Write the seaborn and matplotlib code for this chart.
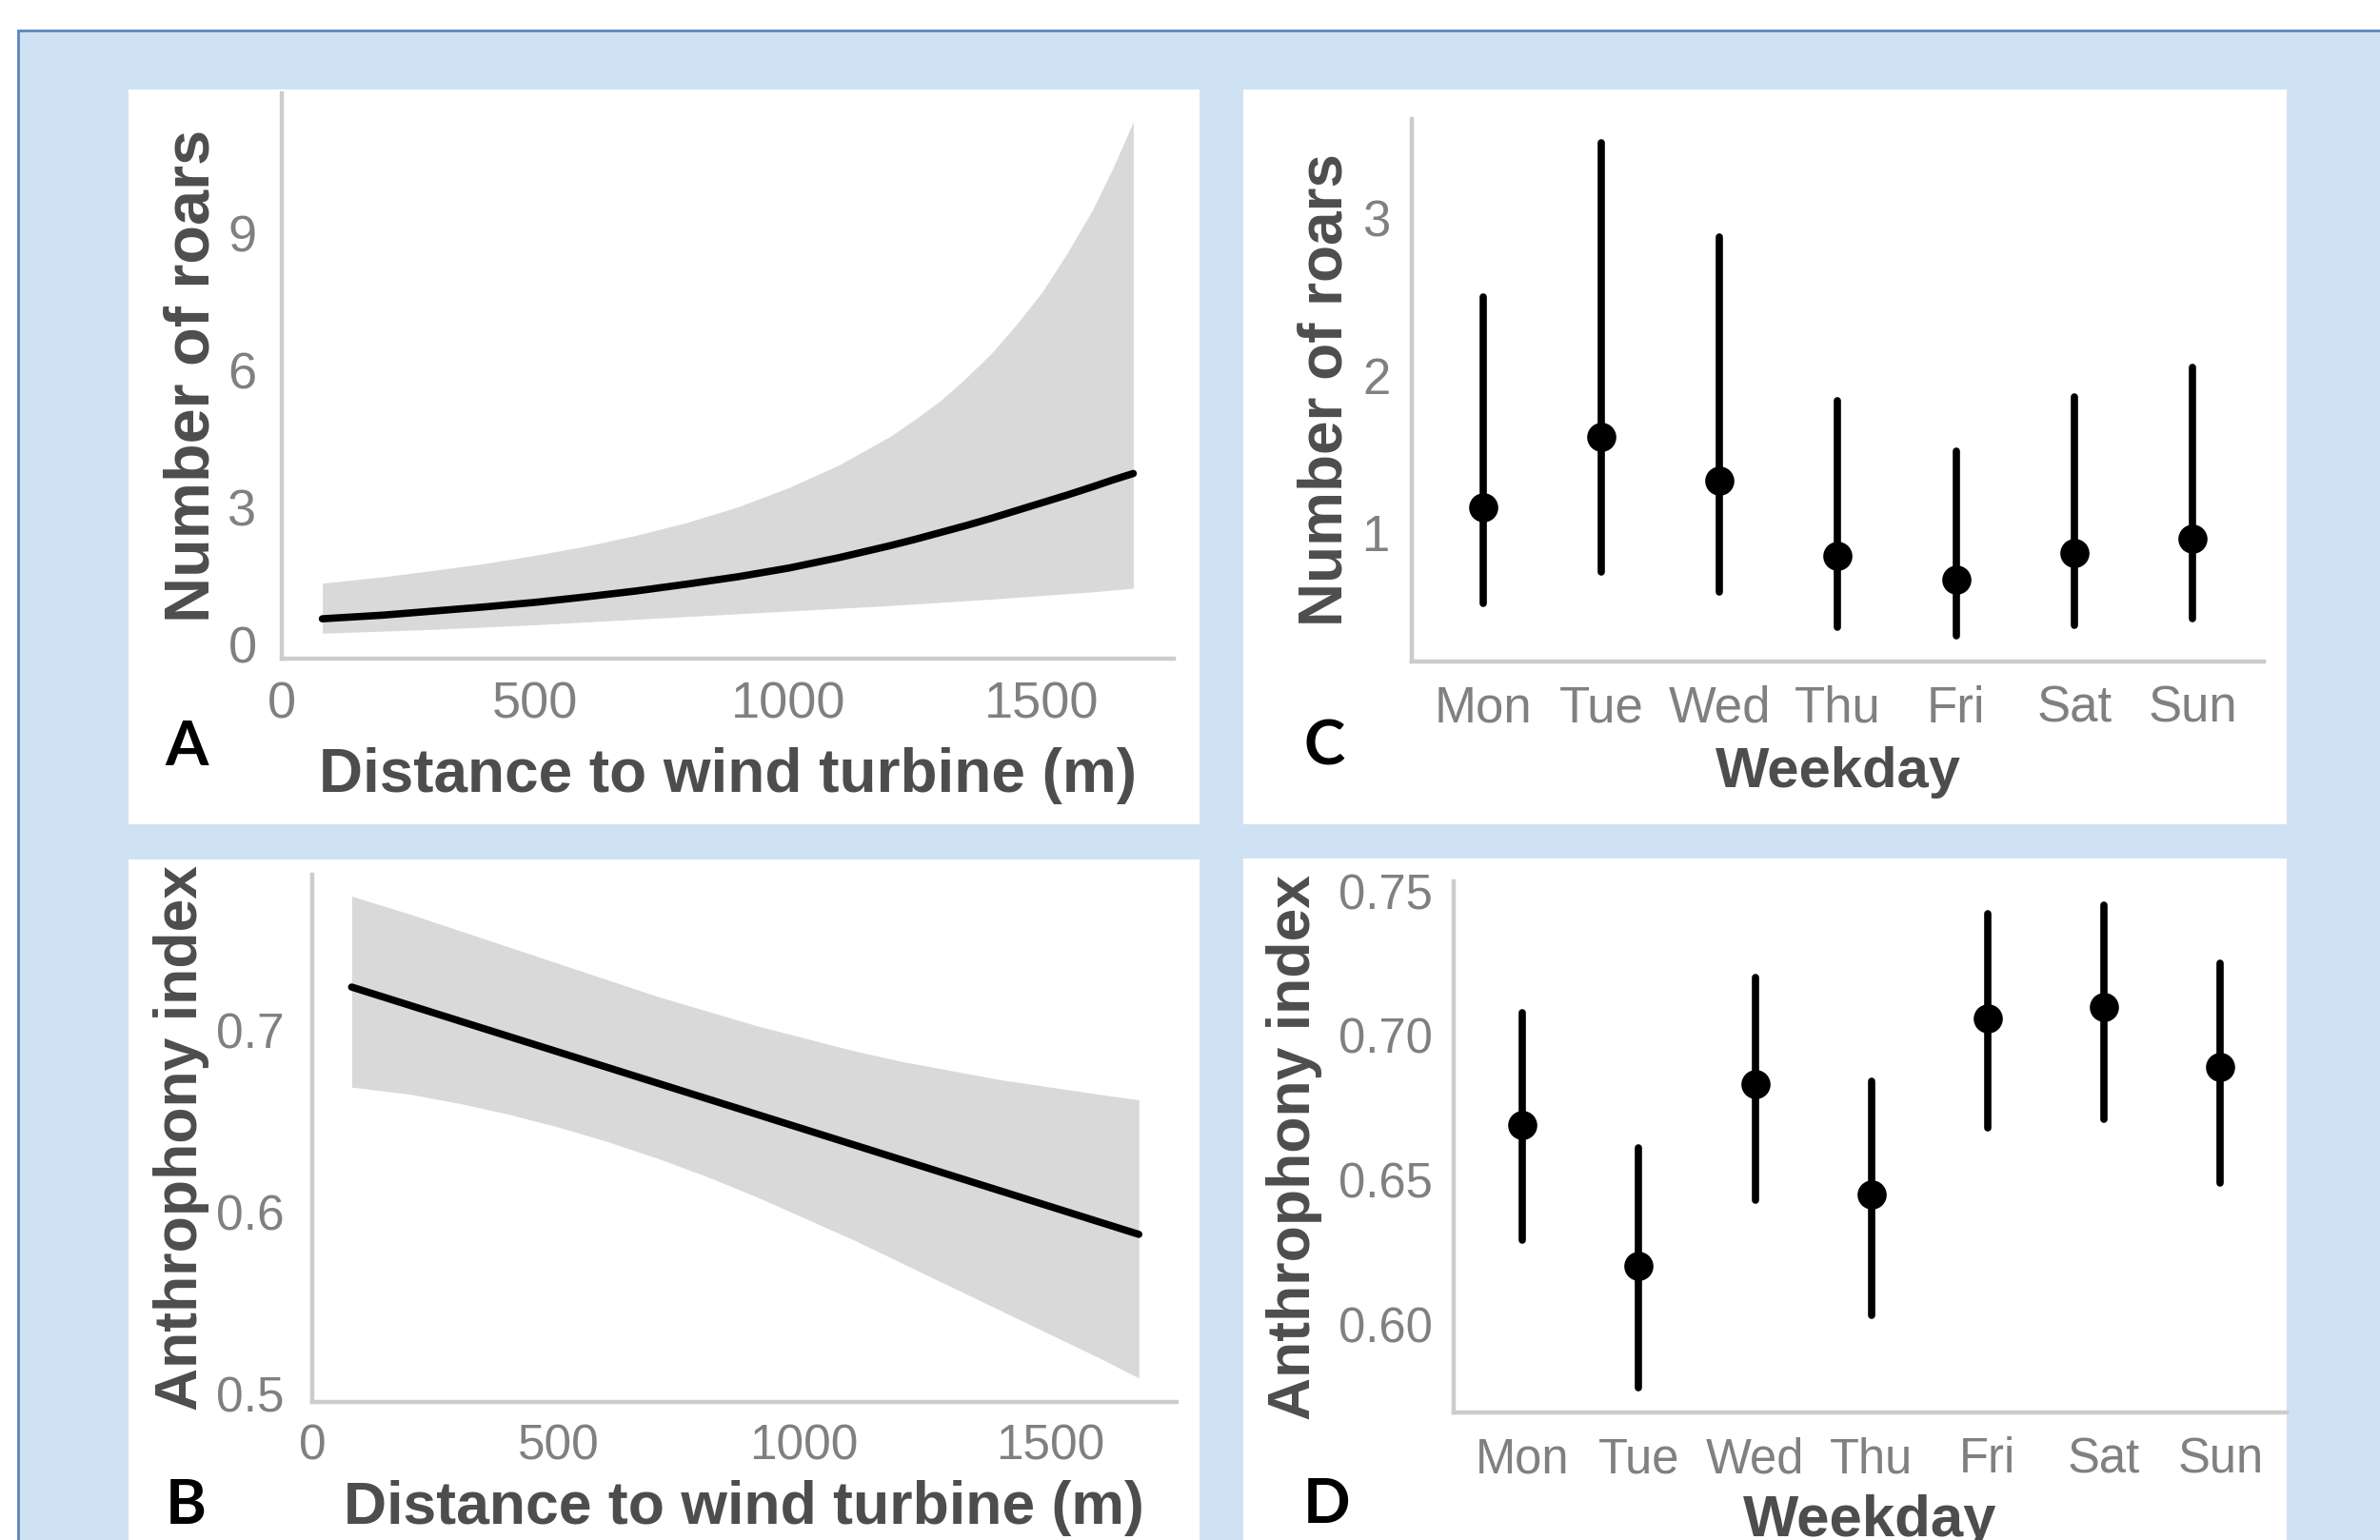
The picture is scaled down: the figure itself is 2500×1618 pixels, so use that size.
import matplotlib
matplotlib.use("Agg")
import matplotlib.pyplot as plt
from matplotlib.patches import Rectangle
import pandas as pd
import seaborn as sns

# panel A: number of roars along distance to turbine
roars_distance = [80, 200, 300, 400, 500, 600, 700, 800, 900, 1000, 1100, 1200, 1250, 1300,
                  1350, 1400, 1450, 1500, 1550, 1600, 1640, 1680]
roars_fit = [0.56, 0.64, 0.73, 0.82, 0.92, 1.04, 1.17, 1.32, 1.48, 1.67, 1.90, 2.16, 2.30, 2.45,
             2.60, 2.76, 2.93, 3.10, 3.27, 3.45, 3.60, 3.74]
roars_lo = [0.245, 0.29, 0.33, 0.38, 0.43, 0.49, 0.55, 0.61, 0.67, 0.73, 0.79, 0.85, 0.885, 0.92,
            0.955, 0.99, 1.03, 1.07, 1.11, 1.15, 1.19, 1.23]
roars_hi = [1.34, 1.48, 1.62, 1.77, 1.95, 2.15, 2.39, 2.67, 3.01, 3.43, 3.93, 4.55, 4.93, 5.34,
            5.83, 6.37, 7.01, 7.71, 8.57, 9.52, 10.43, 11.44]

# panel B: anthrophony index along distance to turbine
anthro_distance = [80, 200, 300, 400, 500, 600, 700, 800, 900, 1000, 1100, 1200, 1300,
                   1400, 1500, 1600, 1680]
anthro_lo = [0.669, 0.665, 0.660, 0.654, 0.647, 0.639, 0.630, 0.620, 0.609, 0.597, 0.585,
             0.572, 0.559, 0.546, 0.533, 0.520, 0.509]
anthro_hi = [0.774, 0.764, 0.755, 0.746, 0.737, 0.728, 0.719, 0.711, 0.703, 0.696, 0.689,
             0.683, 0.678, 0.673, 0.669, 0.665, 0.662]
anthro_fit_distance = [80, 1680]
anthro_fit = [0.724, 0.588]

# panel C / D: weekday estimates with intervals
weekdays = ["Mon", "Tue", "Wed", "Thu", "Fri", "Sat", "Sun"]
roars_day = [1.16, 1.61, 1.33, 0.85, 0.70, 0.87, 0.96]
roars_day_lo = [0.55, 0.75, 0.62, 0.40, 0.34, 0.41, 0.45]
roars_day_hi = [2.50, 3.48, 2.88, 1.84, 1.52, 1.86, 2.05]

anthro_day = [0.669, 0.620, 0.683, 0.645, 0.706, 0.710, 0.689]
anthro_day_lo = [0.629, 0.578, 0.643, 0.603, 0.668, 0.671, 0.649]
anthro_day_hi = [0.708, 0.661, 0.720, 0.684, 0.742, 0.745, 0.725]

W, H = 2500, 1618
BAND = "#d9d9d9"
SPINE = "#cccccc"
TICK = "#808080"
LABEL = "#4d4d4d"

sns.set_style("white")
plt.rcParams["font.family"] = ["Liberation Sans", "DejaVu Sans"]

fig = plt.figure(figsize=(W / 100, H / 100), dpi=100)
fig.patch.set_facecolor("white")


def px_box(x0, y0, x1, y1):
    return [x0 / W, 1 - y1 / H, (x1 - x0) / W, (y1 - y0) / H]


# light blue frame behind the four panels
fig.patches.append(Rectangle((19 / W, -0.02), 1.0, 1.02 - 32 / H, transform=fig.transFigure,
                             facecolor="#cfe2f3", edgecolor="#5a86bb", lw=2, zorder=-3))
for box in [(135, 94, 1260, 866), (1306, 94, 2402, 866),
            (135, 903, 1260, 1640), (1306, 902, 2402, 1640)]:
    x0, y0, w, h = px_box(*box)
    fig.patches.append(Rectangle((x0, y0), w, h, transform=fig.transFigure,
                                 facecolor="white", edgecolor="none", zorder=-2))


def style_axes(ax, tick_size, pad_x, pad_y):
    ax.set_facecolor("none")
    sns.despine(ax=ax)
    for s in ["left", "bottom"]:
        ax.spines[s].set_color(SPINE)
        ax.spines[s].set_linewidth(3.2)
    ax.tick_params(length=0, labelsize=tick_size, labelcolor=TICK)
    ax.tick_params(axis="x", pad=pad_x)
    ax.tick_params(axis="y", pad=pad_y)


def set_labels(ax, xlabel, ylabel, xsize, ysize, xpos, ypos):
    ax.set_xlabel(xlabel, fontsize=xsize, fontweight="bold", color=LABEL)
    ax.set_ylabel(ylabel, fontsize=ysize, fontweight="bold", color=LABEL)
    ax.xaxis.set_label_coords(0.5, xpos)
    ax.yaxis.set_label_coords(ypos, 0.5)
    ax.xaxis.label.set_va("baseline")
    ax.yaxis.label.set_va("baseline")
    ax.yaxis.label.set_rotation_mode("anchor")


def weekday_panel(ax, mid, lo, hi):
    # median of (lo, mid, hi) is mid, the 100% interval is lo..hi
    df = pd.DataFrame({
        "day": weekdays * 3,
        "value": list(lo) + list(mid) + list(hi),
    })
    sns.pointplot(data=df, x="day", y="value", order=weekdays, ax=ax,
                  estimator="median", errorbar=("pi", 100), color="black",
                  linestyle="none", markersize=20, err_kws={"linewidth": 5.5})


# A: roars vs distance
axA = fig.add_axes(px_box(296, 97.6, 1233, 691.7))
axA.fill_between(roars_distance, roars_lo, roars_hi, color=BAND, lw=0)
sns.lineplot(x=roars_distance, y=roars_fit, ax=axA, color="black", lw=5.5)
axA.set_xlim(0, 1760)
axA.set_ylim(-0.306, 12.07)
axA.set_xticks([0, 500, 1000, 1500])
axA.set_yticks([0, 3, 6, 9])
style_axes(axA, 39, 17, 19)
set_labels(axA, "Distance to wind turbine (m)", "Number of roars", 46, 48, -0.2357, -0.0814)

# B: anthrophony vs distance
axB = fig.add_axes(px_box(328, 918.6, 1235.5, 1473.4))
axB.fill_between(anthro_distance, anthro_lo, anthro_hi, color=BAND, lw=0)
sns.lineplot(x=anthro_fit_distance, y=anthro_fit, ax=axB, color="black", lw=5.5)
axB.set_xlim(0, 1756)
axB.set_ylim(0.4956, 0.786)
axB.set_xticks([0, 500, 1000, 1500])
axB.set_yticks([0.5, 0.6, 0.7])
axB.set_yticklabels(["0.5", "0.6", "0.7"])
style_axes(axB, 37, 16, 21)
set_labels(axB, "Distance to wind turbine (m)", "Anthrophony index", 45, 45, -0.230, -0.133)

# C: roars by weekday
axC = fig.add_axes(px_box(1483, 125, 2378, 694.6))
weekday_panel(axC, roars_day, roars_day_lo, roars_day_hi)
axC.set_xlim(-0.6, 6.6)
axC.set_ylim(0.182, 3.63)
axC.set_yticks([1, 2, 3])
style_axes(axC, 38, 18, 16)
set_labels(axC, "Weekday", "Number of roars", 43, 46, -0.2317, -0.0822)

# D: anthrophony by weekday
axD = fig.add_axes(px_box(1526.6, 925.9, 2402, 1484.2))
weekday_panel(axD, anthro_day, anthro_day_lo, anthro_day_hi)
axD.set_xlim(-0.594, 6.57)
axD.set_ylim(0.5693, 0.7534)
axD.set_yticks([0.60, 0.65, 0.70, 0.75])
axD.set_yticklabels(["0.60", "0.65", "0.70", "0.75"])
style_axes(axD, 36.5, 18, 16)
set_labels(axD, "Weekday", "Anthrophony index", 44.5, 45, -0.2325, -0.172)

# panel letters
for letter, x, y in [("A", 196, 804), ("B", 195, 1601), ("C", 1391, 804), ("D", 1394, 1600)]:
    fig.text(x / W, 1 - y / H, letter, fontsize=47, fontweight="bold", family=["Lato", "DejaVu Sans"],
             ha="center", va="baseline", color="black")

fig.savefig("out.png", dpi=100, facecolor="white")
